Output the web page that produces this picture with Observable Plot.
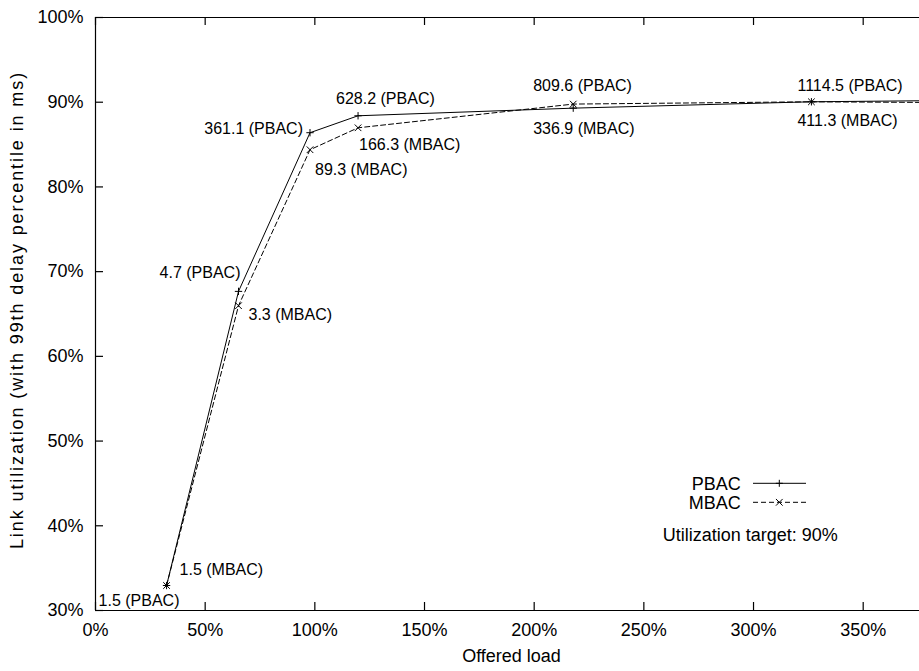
<!DOCTYPE html>
<html><head><meta charset="utf-8">
<script src="https://cdn.jsdelivr.net/npm/d3@7"></script>
<script src="https://cdn.jsdelivr.net/npm/@observablehq/plot@0.6"></script>
<style>
body{margin:0;background:#fff;}
#chart{position:relative;width:919px;height:671px;font-family:"Liberation Sans",Arial,sans-serif;}
</style></head><body><div id="chart"></div>
<script>
// Offered load (%) for each run; the last run lies beyond the visible range
const offeredLoad = [32.4, 65.2, 97.8, 119.7, 217.8, 326.4, 430];
const pbacUtil = [32.95, 67.67, 86.4, 88.4, 89.3, 90.05, 90.3];
const mbacUtil = [32.95, 65.98, 84.39, 86.98, 89.78, 90.05, 89.9];
// 99th delay percentile in ms, shown as point labels
const pbacDelay = ["1.5", "4.7", "361.1", "628.2", "809.6", "1114.5"];
const mbacDelay = ["1.5", "3.3", "89.3", "166.3", "336.9", "411.3"];
const xTicks = [0, 50, 100, 150, 200, 250, 300, 350];
const yTicks = [30, 40, 50, 60, 70, 80, 90, 100];
const seriesNames = ["PBAC", "MBAC"];
const targetNote = "Utilization target: 90%";
const xLabel = "Offered load";
const yLabel = "Link utilization (with 99th delay percentile in ms)";

const W = 919, H = 671, mL = 95, mR = 0, mT = 17, mB = 61;
const fw = W - mL - mR, fh = H - mT - mB;
const FONT = '"Liberation Sans", Arial, Helvetica, sans-serif';

const pbac = offeredLoad.map((x, i) => ({x, y: pbacUtil[i], label: pbacDelay[i] ? pbacDelay[i] + " (PBAC)" : null}));
const mbac = offeredLoad.map((x, i) => ({x, y: mbacUtil[i], label: mbacDelay[i] ? mbacDelay[i] + " (MBAC)" : null}));

// label placement (pixel offsets from the point) – styling only
const pOff = [[-68, 15, "start"], [2, -19, "end"], [-7, -4, "end"], [-22, -17, "start"], [-40, -22, "start"], [-14, -16, "start"]];
const mOff = [[13, -16, "start"], [10, 9, "start"], [5, 20, "start"], [1, 17, "start"], [-40, 25, "start"], [-14, 19, "start"]];

const labelMarks = [];
pbac.forEach((d, i) => { if (d.label) labelMarks.push(Plot.text([d], {x: "x", y: "y", text: "label", dx: pOff[i][0], dy: pOff[i][1], textAnchor: pOff[i][2], lineAnchor: "middle", fontSize: 16, fill: "#000"})); });
mbac.forEach((d, i) => { if (d.label) labelMarks.push(Plot.text([d], {x: "x", y: "y", text: "label", dx: mOff[i][0], dy: mOff[i][1], textAnchor: mOff[i][2], lineAnchor: "middle", fontSize: 16, fill: "#000"})); });

const chart = Plot.plot({
  width: W, height: H,
  marginLeft: mL, marginRight: mR, marginTop: mT, marginBottom: mB,
  style: {fontFamily: FONT, fontSize: "18px", color: "#000", background: "#fff", overflow: "visible"},
  x: {domain: [0, (fw / 109.67) * 50], axis: null},
  y: {domain: [30, 100], axis: null},
  marks: [
    // frame (right side is cut off in the original)
    Plot.ruleX([0], {stroke: "#000", strokeWidth: 1.2}),
    Plot.ruleY([30], {stroke: "#000", strokeWidth: 1.2}),
    Plot.ruleY([100], {stroke: "#000", strokeWidth: 1.2}),
    // inward ticks
    Plot.ruleX(xTicks, {insetTop: fh - 8, stroke: "#000", strokeWidth: 1.2}),
    Plot.ruleX(xTicks, {insetBottom: fh - 8, stroke: "#000", strokeWidth: 1.2}),
    Plot.ruleY(yTicks, {insetRight: fw - 8, stroke: "#000", strokeWidth: 1.2}),
    Plot.axisX({ticks: xTicks, tickFormat: d => d + "%", tickSize: 0, tickPadding: 13, label: null, fontSize: 18, fill: "#000"}),
    Plot.axisY({ticks: yTicks, tickFormat: d => d + "%", tickSize: 0, tickPadding: 12, label: null, fontSize: 18, fill: "#000"}),
    Plot.text([xLabel], {frameAnchor: "bottom", dy: 46, dx: 4, lineAnchor: "middle", textAnchor: "middle", fontSize: 18, fill: "#000"}),
    Plot.text([yLabel], {frameAnchor: "left", dx: -78, dy: -4, rotate: -90, lineAnchor: "middle", textAnchor: "middle", fontSize: 18, fill: "#000"}),
    // series
    Plot.line(pbac, {x: "x", y: "y", stroke: "#000", strokeWidth: 1, clip: true}),
    Plot.line(mbac, {x: "x", y: "y", stroke: "#000", strokeWidth: 1, strokeDasharray: "5,3", clip: true}),
    Plot.dot(pbac, {x: "x", y: "y", symbol: "plus", r: 2.5, stroke: "#000", strokeWidth: 1, clip: true}),
    Plot.dot(mbac, {x: "x", y: "y", symbol: "times", r: 3.1, stroke: "#000", strokeWidth: 1, clip: true}),
    ...labelMarks
  ]
});
document.getElementById("chart").appendChild(chart);

const svg = d3.select(chart);
// the rotated axis title is spaced wider in the original
svg.selectAll("text").filter(function() { return this.textContent === yLabel; })
  .attr("letter-spacing", "1.9px");

// legend inside the plot area
const lg = svg.append("g").attr("font-family", FONT).attr("font-size", 18).attr("fill", "#000");
const legendRows = [
  {name: seriesNames[0], dash: null, sym: d3.symbolPlus, size: 18, y: 483.3},
  {name: seriesNames[1], dash: "5,3", sym: d3.symbolTimes, size: 31, y: 502.3}
];
legendRows.forEach(r => {
  lg.append("text").attr("x", 740.7).attr("y", r.y).attr("dy", "0.35em").attr("text-anchor", "end").text(r.name);
  const l = lg.append("line").attr("x1", 753).attr("x2", 806).attr("y1", r.y).attr("y2", r.y).attr("stroke", "#000").attr("stroke-width", 1);
  if (r.dash) l.attr("stroke-dasharray", r.dash);
  lg.append("path").attr("d", d3.symbol(r.sym, r.size)()).attr("transform", `translate(779.3,${r.y})`).attr("fill", "none").attr("stroke", "#000").attr("stroke-width", 1);
});
lg.append("text").attr("x", 662.7).attr("y", 535).attr("dy", "0.35em").attr("text-anchor", "start").text(targetNote);
</script></body></html>
